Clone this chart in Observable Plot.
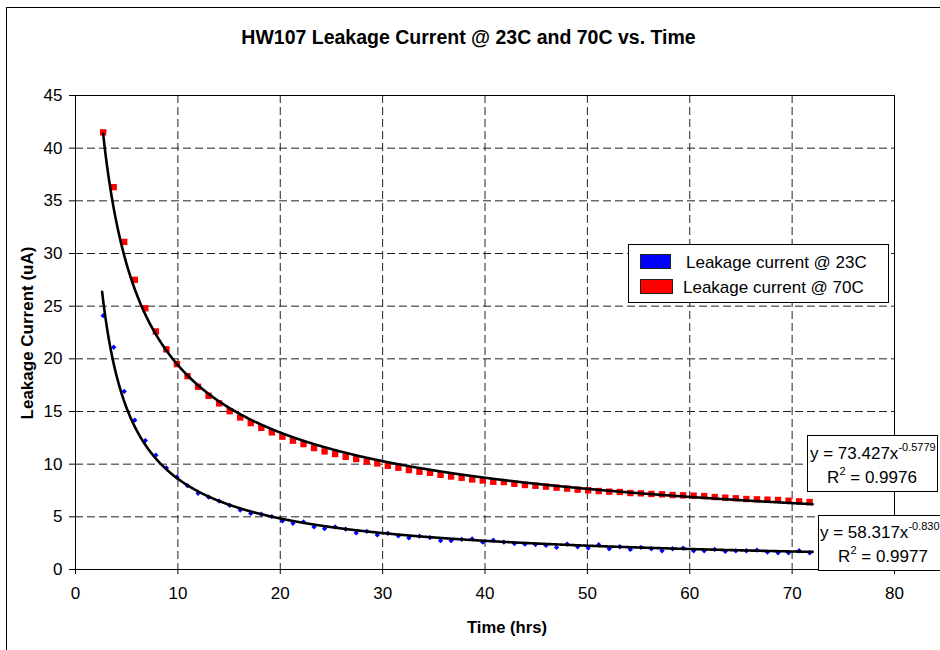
<!DOCTYPE html>
<html><head><meta charset="utf-8">
<script src="https://cdn.jsdelivr.net/npm/d3@7"></script>
<script src="https://cdn.jsdelivr.net/npm/@observablehq/plot@0.6"></script>
<style>body{margin:0;background:#fff} svg{display:block}</style>
</head><body><div id="chart"></div>
<script>
const chartTitle = "HW107 Leakage Current @ 23C and 70C vs. Time";
const xLabel = "Time (hrs)";
const yLabel = "Leakage Current (uA)";
const seriesNames = ["Leakage current @ 23C", "Leakage current @ 70C"];
const seriesColors = ["#0000ff", "#ff0000"];

const timeHrs = [2.70,3.73,4.76,5.79,6.82,7.85,8.88,9.91,10.94,11.97,13.00,14.03,15.06,16.09,17.12,18.15,19.18,20.21,21.24,22.27,23.30,24.33,25.36,26.39,27.42,28.45,29.48,30.51,31.54,32.57,33.60,34.63,35.66,36.69,37.72,38.75,39.78,40.81,41.84,42.87,43.90,44.93,45.96,46.99,48.02,49.05,50.08,51.11,52.14,53.17,54.20,55.23,56.26,57.29,58.32,59.35,60.38,61.41,62.44,63.47,64.50,65.53,66.56,67.59,68.62,69.65,70.68,71.71];

const current23C = [24.1,21.1,16.9,14.18,12.24,10.85,9.64,8.78,7.96,7.23,6.88,6.50,6.09,5.64,5.32,5.25,5.02,4.61,4.39,4.52,4.04,3.88,4.04,3.83,3.47,3.63,3.28,3.44,3.19,3.00,3.16,3.03,2.74,2.74,2.87,2.90,2.59,2.78,2.59,2.46,2.40,2.37,2.28,2.09,2.41,2.16,2.03,2.35,1.97,2.16,1.90,2.09,1.97,1.78,1.97,2.03,1.78,1.78,1.90,1.71,1.78,1.78,1.84,1.65,1.59,1.59,1.78,1.59];

const current70C = [41.5,36.3,31.1,27.5,24.8,22.6,20.9,19.5,18.36,17.35,16.49,15.77,15.03,14.43,13.9,13.45,13.02,12.61,12.23,11.91,11.53,11.21,10.96,10.70,10.49,10.26,10.07,9.85,9.66,9.44,9.28,9.18,8.99,8.83,8.71,8.55,8.45,8.33,8.30,8.14,8.02,7.95,7.87,7.77,7.68,7.58,7.52,7.45,7.39,7.36,7.26,7.23,7.17,7.14,7.07,7.04,7.01,6.97,6.88,6.82,6.76,6.69,6.66,6.63,6.60,6.53,6.47,6.40];

// Power trendlines as printed on the chart: y = a * x^b
const trend23C = {a: 58.317, b: -0.8307, r2: "0.9977", from: 2.6, to: 72};
const trend70C = {a: 73.427, b: -0.5779, r2: "0.9976", from: 2.7, to: 72};

const xTicks = [0,10,20,30,40,50,60,70,80];
const yTicks = [0,5,10,15,20,25,30,35,40,45];

const pts23 = timeHrs.map((t,i) => ({t, v: current23C[i]}));
const pts70 = timeHrs.map((t,i) => ({t, v: current70C[i]}));
const curve = f => d3.range(f.from, f.to + 1e-9, 0.05).map(t => ({t, v: f.a * Math.pow(t, f.b)}));

const FONT = "'Liberation Sans', Arial, Helvetica, sans-serif";

const plot = Plot.plot({
  width: 940, height: 650,
  marginLeft: 75, marginRight: 46, marginTop: 95, marginBottom: 81,
  style: {fontFamily: FONT, fontSize: "17px", color: "#000", background: "#fff"},
  x: {domain: [0, 80], label: null},
  y: {domain: [0, 45], label: null},
  marks: [
    Plot.gridX(xTicks.slice(1, -1), {stroke: "#222", strokeOpacity: 1, strokeWidth: 1, strokeDasharray: "8,4"}),
    Plot.gridY(yTicks.slice(1, -1), {stroke: "#222", strokeOpacity: 1, strokeWidth: 1, strokeDasharray: "8,4"}),
    Plot.frame({stroke: "#000"}),
    Plot.axisX(xTicks, {tickSize: 5, tickPadding: 12, fontSize: 17, label: null, stroke: "#000"}),
    Plot.axisY(yTicks, {tickSize: 6, tickPadding: 7, fontSize: 17, label: null, stroke: "#000"}),
    Plot.dot(pts70, {x: "t", y: "v", symbol: "square", r: 3.6, fill: seriesColors[1], stroke: "none"}),
    Plot.dot(pts23, {x: "t", y: "v", symbol: "square", rotate: 45, r: 2.1, fill: seriesColors[0], stroke: "none"}),
    Plot.line(curve(trend70C), {x: "t", y: "v", stroke: "#000", strokeWidth: 2.6, curve: "linear"}),
    Plot.line(curve(trend23C), {x: "t", y: "v", stroke: "#000", strokeWidth: 2.6, curve: "linear"})
  ]
});

document.getElementById("chart").appendChild(plot);

const svg = d3.select(plot);
// outer chart-area border
svg.insert("rect", ":first-child").attr("x", 6.5).attr("y", 7.5).attr("width", 1000).attr("height", 1000)
  .attr("fill", "none").attr("stroke", "#000");

const ann = svg.append("g").attr("font-family", FONT).attr("fill", "#000");
ann.append("text").attr("x", 468.5).attr("y", 44).attr("text-anchor", "middle")
  .attr("font-weight", "bold").attr("font-size", 19.5).text(chartTitle);
ann.append("text").attr("transform", "translate(33,333) rotate(-90)").attr("text-anchor", "middle")
  .attr("font-weight", "bold").attr("font-size", 17).text(yLabel);
ann.append("text").attr("x", 507).attr("y", 633).attr("text-anchor", "middle")
  .attr("font-weight", "bold").attr("font-size", 16.6).text(xLabel);

// legend
const lg = svg.append("g").attr("font-family", FONT).attr("text-anchor", "start").attr("fill", "#000");
lg.append("rect").attr("x", 628.5).attr("y", 244.5).attr("width", 260).attr("height", 58)
  .attr("fill", "#fff").attr("stroke", "#000");
lg.append("rect").attr("x", 640.5).attr("y", 254.5).attr("width", 30).attr("height", 14)
  .attr("fill", seriesColors[0]).attr("stroke", "#222");
lg.append("rect").attr("x", 640.5).attr("y", 279.5).attr("width", 32).attr("height", 14)
  .attr("fill", seriesColors[1]).attr("stroke", "#222");
lg.append("text").attr("x", 686).attr("y", 268).attr("font-size", 17).text(seriesNames[0]);
lg.append("text").attr("x", 683).attr("y", 293).attr("font-size", 17).text(seriesNames[1]);

// trendline equation boxes
function eqBox(f, bx, by, bw, bh, tx, ty, cx) {
  const g = svg.append("g").attr("font-family", FONT).attr("text-anchor", "start").attr("fill", "#000");
  g.append("rect").attr("x", bx).attr("y", by).attr("width", bw).attr("height", bh)
    .attr("fill", "#fff").attr("stroke", "#000");
  const t1 = g.append("text").attr("x", tx).attr("y", ty).attr("font-size", 17);
  t1.append("tspan").text(`y = ${f.a.toFixed(3)}x`);
  t1.append("tspan").attr("font-size", 11).attr("dy", -8).text(String(f.b));
  const t2 = g.append("text").attr("x", cx).attr("y", ty + 24).attr("font-size", 17).attr("text-anchor", "middle");
  t2.append("tspan").text("R");
  t2.append("tspan").attr("font-size", 11).attr("dy", -8).text("2");
  t2.append("tspan").attr("dy", 8).text(` = ${f.r2}`);
}
eqBox(trend70C, 807.5, 435.5, 130, 56, 810, 459, 872);
eqBox(trend23C, 818.5, 515.5, 160, 55, 820, 538, 883);
</script>
</body></html>
